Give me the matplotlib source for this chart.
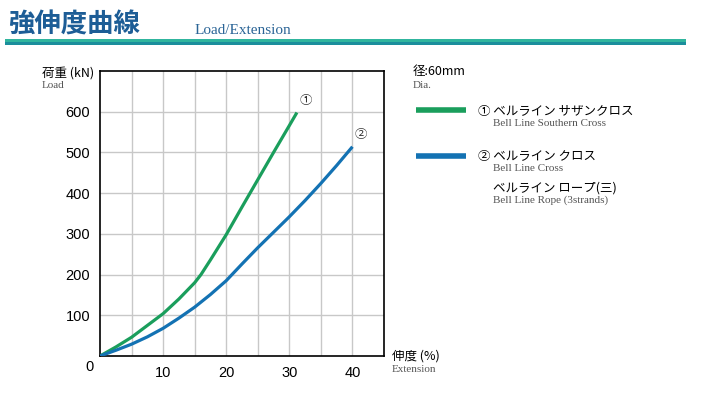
import matplotlib
matplotlib.use("Agg")
import matplotlib.pyplot as plt
from matplotlib.lines import Line2D
from matplotlib.patches import Rectangle

plt.rcParams['font.family'] = ['Noto Sans CJK JP', 'DejaVu Sans']

# extension (%) / load (kN)
green_x = [0, 2.5, 5, 7.5, 10, 12.5, 15, 16, 17.5, 20, 22.5, 25, 27.5, 30, 31.2]
green_y = [0, 22, 46, 75, 104, 140, 180, 200, 236, 298, 366, 433, 500, 566, 598]
blue_x = [0, 2.5, 5, 7.5, 10, 12.5, 15, 17.5, 20, 22.5, 25, 27.5, 30, 32.5, 35, 37.5, 40]
blue_y = [0, 14, 29, 47, 68, 93, 120, 151, 185, 226, 266, 304, 342, 382, 424, 468, 514]

x_ticks = [10, 20, 30, 40]
y_ticks = [100, 200, 300, 400, 500, 600]

GREEN = '#1a9e5c'
BLUE = '#1372b3'
W, H = 706, 396

fig = plt.figure(figsize=(W / 100, H / 100), dpi=100)
ax = fig.add_axes([100 / W, 1 - 356 / H, 284 / W, 285 / H])


def fx(px):
    return px / W


def fy(py):
    return 1 - py / H


ax.plot(green_x, green_y, color=GREEN, lw=2.3, solid_capstyle='butt', solid_joinstyle='round', zorder=3)
ax.plot(blue_x, blue_y, color=BLUE, lw=2.3, solid_capstyle='butt', solid_joinstyle='round', zorder=3)

ax.set_xlim(0, 45)
ax.set_ylim(0, 700)
ax.set_xticks([5, 10, 15, 20, 25, 30, 35, 40])
ax.set_xticklabels(['' if t not in x_ticks else str(t) for t in [5, 10, 15, 20, 25, 30, 35, 40]])
ax.set_yticks(y_ticks)
ax.tick_params(length=0, labelsize=10.5, pad=7)
for lab in ax.get_xticklabels() + ax.get_yticklabels():
    lab.set_family('Liberation Sans')
ax.grid(True, color='#c8c8c8', lw=1)
for s in ax.spines.values():
    s.set_linewidth(1.2)

ax.text(31.6, 612, '①', fontsize=9, color='#333333', ha='left', va='bottom')
ax.text(40.3, 528, '②', fontsize=9, color='#333333', ha='left', va='bottom')

# title area
fig.text(fx(8), fy(25), '強伸度曲線', fontsize=19, fontweight='bold', color='#1d5d96', va='center')
fig.text(fx(195), fy(30), 'Load/Extension', fontsize=11, family='Liberation Serif',
         color='#2a6496', va='center')
fig.patches.append(Rectangle((fx(5), fy(42)), fx(681), 3 / H, transform=fig.transFigure,
                             color='#30b59e', lw=0))
fig.patches.append(Rectangle((fx(5), fy(45)), fx(681), 3 / H, transform=fig.transFigure,
                             color='#1b8e9c', lw=0))

# axis labels
fig.text(fx(42), fy(73), '荷重 (kN)', fontsize=9, va='center')
fig.text(fx(42), fy(86), 'Load', fontsize=8, family='Liberation Serif', color='#555555', va='center')
fig.text(fx(392), fy(356), '伸度 (%)', fontsize=9, va='center')
fig.text(fx(392), fy(369), 'Extension', fontsize=8, family='Liberation Serif', color='#555555', va='center')
fig.text(fx(85), fy(367), '0', fontsize=10.5, family='Liberation Sans', va='center')

# legend
fig.text(fx(413), fy(72), '径:60mm', fontsize=9, va='center')
fig.text(fx(413), fy(86), 'Dia.', fontsize=8, family='Liberation Serif', color='#555555', va='center')
fig.lines.append(Line2D([fx(416), fx(466)], [fy(110), fy(110)], transform=fig.transFigure,
                        color=GREEN, lw=4, solid_capstyle='butt'))
fig.text(fx(478), fy(112), '① ベルライン サザンクロス', fontsize=9, va='center')
fig.text(fx(493), fy(124), 'Bell Line Southern Cross', fontsize=8, family='Liberation Serif',
         color='#555555', va='center')
fig.lines.append(Line2D([fx(416), fx(466)], [fy(156), fy(156)], transform=fig.transFigure,
                        color=BLUE, lw=4, solid_capstyle='butt'))
fig.text(fx(478), fy(157), '② ベルライン クロス', fontsize=9, va='center')
fig.text(fx(493), fy(169), 'Bell Line Cross', fontsize=8, family='Liberation Serif',
         color='#555555', va='center')
fig.text(fx(493), fy(188), 'ベルライン ロープ(三)', fontsize=9, va='center')
fig.text(fx(493), fy(200), 'Bell Line Rope (3strands)', fontsize=8, family='Liberation Serif',
         color='#555555', va='center')

fig.savefig('out.png', dpi=100)
